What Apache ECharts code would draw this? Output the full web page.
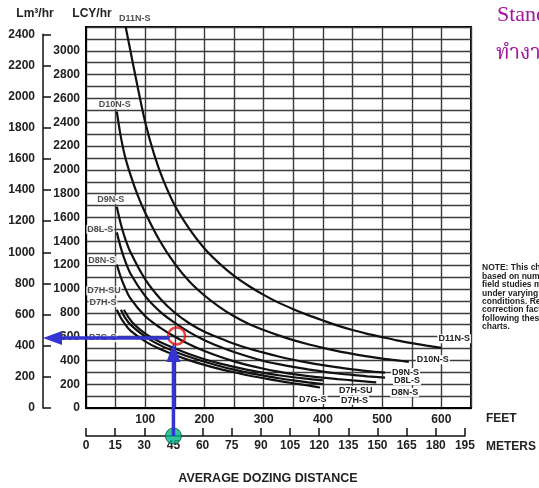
<!DOCTYPE html>
<html><head><meta charset="utf-8">
<script src="https://cdn.jsdelivr.net/npm/echarts@6/dist/echarts.min.js"></script>
<style>html,body{margin:0;padding:0;background:#fff}#c{width:539px;height:488px}</style>
</head><body><div id="c"></div>
<script>
// ---- data (feet, LCY/hr) ----
const D11N_S = [[67,3200],[75,3000],[85,2750],[100,2400],[115,2130],[130,1920],[150,1700],[175,1500],[200,1340],[225,1215],[250,1110],[275,1025],[300,950],[325,885],[350,830],[375,780],[400,735],[425,692],[450,655],[475,623],[500,595],[525,568],[550,545],[575,524],[600,505]];
const D10N_S = [[52,2490],[58,2300],[65,2130],[75,1960],[87,1790],[100,1640],[125,1400],[150,1210],[175,1060],[200,945],[225,850],[250,770],[275,705],[300,655],[325,610],[350,570],[375,535],[400,505],[425,478],[450,455],[475,433],[500,415],[525,400],[545,388]];
const D9N_S  = [[52,1690],[58,1560],[65,1440],[75,1310],[100,1080],[125,920],[150,800],[175,710],[200,640],[225,588],[250,540],[275,500],[300,465],[325,433],[350,405],[375,381],[400,360],[425,341],[450,325],[475,310],[505,297]];
const D8L_S  = [[52,1475],[58,1360],[65,1250],[75,1130],[100,940],[125,810],[150,715],[175,635],[200,570],[225,517],[250,470],[275,430],[300,395],[325,368],[350,345],[375,324],[400,305],[425,290],[450,278],[475,266],[505,255]];
const D8N_S  = [[52,1205],[58,1110],[65,1020],[75,920],[100,770],[125,675],[150,598],[175,533],[200,478],[225,432],[250,392],[275,358],[300,330],[325,306],[350,285],[375,268],[400,255],[425,243],[450,232],[470,224],[490,215]];
const D7H_SU = [[64,825],[70,775],[80,710],[100,625],[125,555],[150,500],[175,452],[200,410],[225,375],[250,345],[275,318],[300,295],[325,275],[350,258],[375,244],[400,232]];
const D7H_S  = [[59,825],[65,765],[75,700],[100,600],[125,528],[150,473],[175,428],[200,388],[225,353],[250,322],[275,295],[300,272],[325,250],[350,232],[375,215],[400,200]];
const D7G_S  = [[52,825],[58,765],[65,710],[75,650],[100,560],[125,495],[150,445],[175,400],[200,362],[225,329],[250,300],[275,273],[300,250],[325,228],[350,208],[375,189],[395,172]];

const curveNames = ['D11N-S','D10N-S','D9N-S','D8L-S','D8N-S','D7H-SU','D7H-S','D7G-S'];
const curveData  = [D11N_S, D10N_S, D9N_S, D8L_S, D8N_S, D7H_SU, D7H_S, D7G_S];

const feetMax = 650, lcyMax = 3200;
const lm3Max = 2400;            // Lm3/hr axis
const metersMax = 195;          // meters axis
const exampleMeters = [45];     // example read-off distance
const exampleLm3 = [450];       // example read-off production
const circlePoint = [[153, 605]];
const noteLines = ['NOTE: This chart is','based on numerous','field studies made','under varying job','conditions. Refer to','correction factors','following these','charts.'];

// ---- layout ----
const FONT = "'Liberation Sans', Arial, sans-serif";
const LCY_PER_LM3 = 1/0.76455;
const FT_PER_M = 1/0.3048;
const plotLeft = 86, plotTop = 27, plotBottom = 80, plotRight = 68;
const plotW = 539 - plotLeft - plotRight, plotH = 488 - plotTop - plotBottom;
const pxPerFt = plotW / feetMax, pxPerLcy = plotH / lcyMax;
const lm3Top = 488 - plotBottom - lm3Max * LCY_PER_LM3 * pxPerLcy;
const mW = metersMax * FT_PER_M * pxPerFt;

// per-curve label placement (style only)
const startLbl = [
  {position:'top', distance:3, offset:[9,0]},
  {position:'top', distance:2, offset:[-2,0]},
  {position:'top', distance:2, offset:[-6,0]},
  {position:'left', distance:2, offset:[0,-3]},
  {position:'left', distance:2, offset:[2,-4]},
  {position:'top', distance:2, offset:[-20,-12]},
  {position:'top', distance:2, offset:[-18,0]},
  {position:'top', distance:2, offset:[-14,35]}
];
const endOff = [[-12,-9],[-1,-2],[-2,0],[0,3],[6,10],[7,10],[9,16],[-30,12]];

const lblStyle = {fontFamily: FONT, fontSize: 9, fontWeight: 'bold', color: '#222', backgroundColor: '#fff', padding: [0,1]};

const chart = echarts.init(document.getElementById('c'), null, {renderer: 'canvas'});

const series = curveNames.map((n, i) => ({
  type: 'line', name: n, data: curveData[i], xAxisIndex: 0, yAxisIndex: 0,
  smooth: 0.3, showSymbol: false, symbol: 'none',
  lineStyle: {color: '#111', width: 2.2}, z: 5,
  endLabel: Object.assign({show: true, formatter: n, offset: endOff[i]}, lblStyle)
}));

series.push({
  type: 'scatter', xAxisIndex: 0, yAxisIndex: 0, symbolSize: 1, silent: true, z: 6,
  itemStyle: {color: 'rgba(0,0,0,0)'},
  data: curveData.map((d, i) => ({value: d[0], label: Object.assign({show: true, formatter: curveNames[i]}, startLbl[i], lblStyle)}))
});

series.push({
  type: 'scatter', xAxisIndex: 0, yAxisIndex: 0, data: circlePoint, symbol: 'circle', symbolSize: 17, z: 20,
  itemStyle: {color: 'rgba(0,0,0,0)', borderColor: '#e81010', borderWidth: 2.5}
});

series.push({
  type: 'scatter', xAxisIndex: 2, yAxisIndex: 2, data: exampleMeters.map(m => [m, 0]), symbol: 'circle', symbolSize: 16, z: 30,
  itemStyle: {color: '#00b386', borderColor: '#115544', borderWidth: 1}
});

const txt = (id, text, x, y, font, fill, align) => ({id, type:'text', z: 40, style:{text, x, y, font, fill, textAlign:align, textVerticalAlign:'middle', align:align, verticalAlign:'middle'}});
const baseGraphic = [
  txt('t1', 'Lm³/hr', 35, 14, 'bold 12px '+FONT, '#222', 'center'),
  txt('t2', 'LCY/hr', 92, 14, 'bold 12px '+FONT, '#222', 'center'),
  txt('t3', 'FEET', 486, 419, 'bold 12px '+FONT, '#222', 'left'),
  txt('t4', 'METERS', 486, 447, 'bold 12px '+FONT, '#222', 'left'),
  txt('t5', 'AVERAGE DOZING DISTANCE', 268, 479, 'bold 12.5px '+FONT, '#222', 'center'),
  txt('t6', 'Standard', 497, 15, '22px "Liberation Serif", "DejaVu Serif", serif', '#a0169e', 'left'),
  txt('t7', 'ทำงาน', 496, 56, '21px "Noto Serif Thai", "Noto Sans Thai", serif', '#a0169e', 'left')
].concat(noteLines.map((t, i) => txt('n'+i, t, 482, 268 + i*8.4, 'bold 8.5px '+FONT, '#222', 'left')));

chart.setOption({
  animation: false,
  backgroundColor: '#fff',
  grid: [
    {left: plotLeft, right: plotRight, top: plotTop, bottom: plotBottom, show: true, borderColor: '#000', borderWidth: 2, backgroundColor: '#fff'},
    {left: 43, width: 1, top: lm3Top, bottom: plotBottom},
    {left: plotLeft, width: mW, top: 435, height: 1}
  ],
  xAxis: [
    {gridIndex: 0, type: 'value', min: 0, max: feetMax, interval: 50,
     axisLine: {show: true, lineStyle: {color: '#000', width: 2}}, axisTick: {show: false},
     splitLine: {show: true, lineStyle: {color: '#3c3c3c', width: 1.4}},
     axisLabel: {margin: 6, fontFamily: FONT, fontSize: 12, fontWeight: 'bold', color: '#222',
       formatter: v => (v > 0 && v % 100 === 0 && v <= 600) ? String(v) : ''}},
    {gridIndex: 1, type: 'value', min: 0, max: 1, show: false},
    {gridIndex: 2, type: 'value', min: 0, max: metersMax, interval: 15, position: 'bottom',
     axisLine: {show: true, lineStyle: {color: '#111', width: 1.5}},
     axisTick: {show: true, inside: true, length: 8, lineStyle: {color: '#111', width: 1.5}},
     splitLine: {show: false},
     axisLabel: {margin: 4, fontFamily: FONT, fontSize: 12, fontWeight: 'bold', color: '#222', formatter: v => String(v)}}
  ],
  yAxis: [
    {gridIndex: 0, type: 'value', min: 0, max: lcyMax, interval: 100,
     axisLine: {show: true, lineStyle: {color: '#000', width: 2}}, axisTick: {show: false},
     splitLine: {show: true, lineStyle: {color: '#3c3c3c', width: 1.4}},
     axisLabel: {margin: 6, fontFamily: FONT, fontSize: 12, fontWeight: 'bold', color: '#222',
       formatter: v => (v % 200 === 0 && v <= 3000) ? String(v) : ''}},
    {gridIndex: 1, type: 'value', min: 0, max: lm3Max, interval: 200, position: 'left',
     axisLine: {show: true, lineStyle: {color: '#111', width: 1.5}},
     axisTick: {show: true, inside: true, length: 8, lineStyle: {color: '#111', width: 1.5}},
     splitLine: {show: false},
     axisLabel: {margin: 8, fontFamily: FONT, fontSize: 12, fontWeight: 'bold', color: '#222', formatter: v => String(v)}},
    {gridIndex: 2, type: 'value', min: 0, max: 1, show: false}
  ],
  series: series,
  graphic: baseGraphic
});

// example read-off arrows, positioned from axis conversions
const target = chart.convertToPixel({gridIndex: 0}, [exampleMeters[0] * FT_PER_M, exampleLm3[0] * LCY_PER_LM3]);
const axisX = chart.convertToPixel({gridIndex: 1}, [0, exampleLm3[0]]);
const dot = chart.convertToPixel({gridIndex: 2}, [exampleMeters[0], 0]);
const BLUE = '#3434d0';
const hy = axisX[1];
const vx = dot[0];
const arrows = [
  {id:'a1', type:'polyline', z:50, shape:{points:[[target[0]-4, hy],[axisX[0]+16, hy]]}, style:{stroke:BLUE, lineWidth:3.5, fill:null}},
  {id:'a2', type:'polygon', z:50, shape:{points:[[axisX[0], hy],[axisX[0]+19, hy-7],[axisX[0]+19, hy+7]]}, style:{fill:BLUE}},
  {id:'a3', type:'polyline', z:50, shape:{points:[[vx, dot[1]],[vx, target[1]+20]]}, style:{stroke:BLUE, lineWidth:3.5, fill:null}},
  {id:'a4', type:'polygon', z:50, shape:{points:[[vx, target[1]+5],[vx-7, target[1]+24],[vx+7, target[1]+24]]}, style:{fill:BLUE}}
];
chart.setOption({graphic: baseGraphic.concat(arrows)});
</script></body></html>
